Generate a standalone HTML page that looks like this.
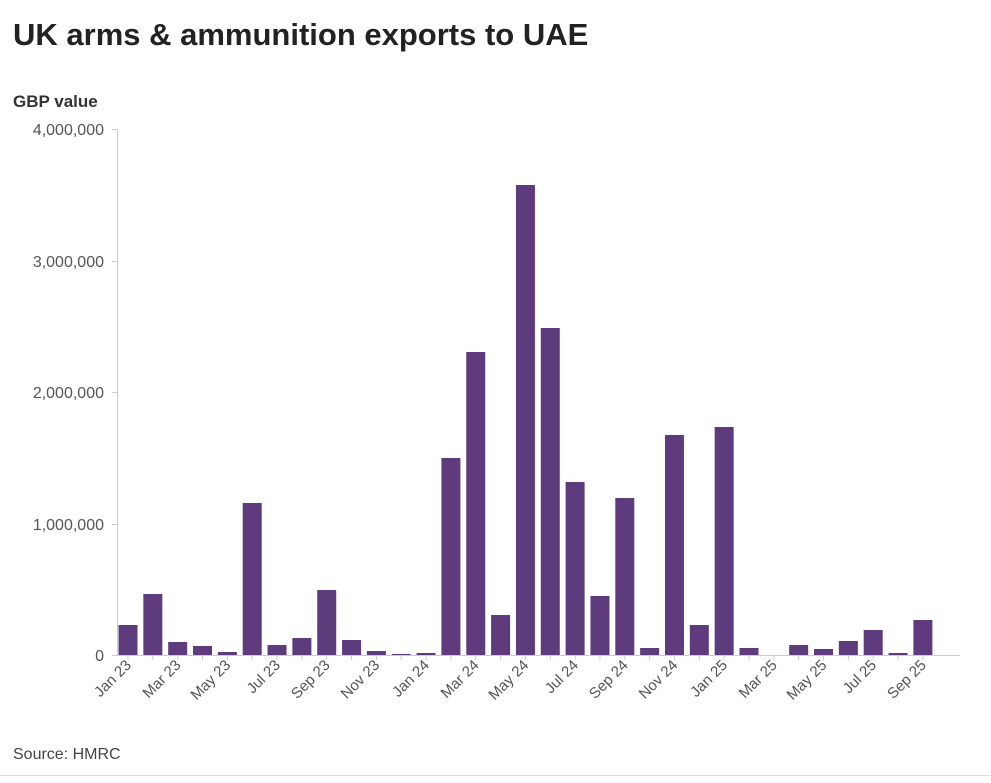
<!DOCTYPE html>
<html><head><meta charset="utf-8"><style>
body{margin:0;background:#fff;width:991px;height:778px;overflow:hidden;font-family:"Liberation Sans",sans-serif}
</style></head><body>
<svg width="991" height="778" xmlns="http://www.w3.org/2000/svg" font-family="Liberation Sans, sans-serif">
<text x="13" y="45" font-size="31" font-weight="bold" fill="#222">UK arms &amp; ammunition exports to UAE</text>
<text x="13" y="107" font-size="17" font-weight="bold" fill="#333">GBP value</text>
<g font-size="16" fill="#555" text-anchor="end">
<text x="104" y="135">4,000,000</text>
<text x="104" y="267">3,000,000</text>
<text x="104" y="398">2,000,000</text>
<text x="104" y="530">1,000,000</text>
<text x="104" y="661">0</text>
</g>
<g stroke="#ccc" stroke-width="1">
<line x1="117.5" y1="129" x2="117.5" y2="655"/>
<line x1="112" y1="129.5" x2="117" y2="129.5"/>
<line x1="112" y1="261.5" x2="117" y2="261.5"/>
<line x1="112" y1="392.5" x2="117" y2="392.5"/>
<line x1="112" y1="524.5" x2="117" y2="524.5"/>
<line x1="112" y1="655.5" x2="960" y2="655.5"/>
<line x1="0" y1="775.5" x2="991" y2="775.5" stroke="#ddd"/>
</g>
<g id="bars" fill="#5e3b7d"></g>
<g id="ticks" stroke="#ccc"></g>
<g id="labels" font-size="15" fill="#555"></g>
<text x="13" y="759" font-size="16" fill="#444">Source: HMRC</text>
<script>
var tops=[625,594,642,646,652,503,645,638,590,640,651,654,653,458,352,615,185,328,482,596,498,648,435,625,427,648,655,645,649,641,630,653,620];
var names=["Jan 23","Mar 23","May 23","Jul 23","Sep 23","Nov 23","Jan 24","Mar 24","May 24","Jul 24","Sep 24","Nov 24","Jan 25","Mar 25","May 25","Jul 25","Sep 25"];
var ns="http://www.w3.org/2000/svg",b=document.getElementById("bars"),t=document.getElementById("ticks"),l=document.getElementById("labels");
for(var i=0;i<33;i++){var cx=128+i*24.84;
 if(tops[i]<655){var r=document.createElementNS(ns,"rect");r.setAttribute("x",cx-9.5);r.setAttribute("width",19);r.setAttribute("y",tops[i]);r.setAttribute("height",655-tops[i]);b.appendChild(r);}
 var k=document.createElementNS(ns,"line");k.setAttribute("x1",cx);k.setAttribute("x2",cx);k.setAttribute("y1",655);k.setAttribute("y2",660);t.appendChild(k);
 if(i%2==0){var s=document.createElementNS(ns,"text");s.setAttribute("text-anchor","end");s.setAttribute("transform","translate("+(cx+4)+",666) rotate(-45)");s.textContent=names[i/2];l.appendChild(s);}
}
</script>
</svg>
</body></html>
